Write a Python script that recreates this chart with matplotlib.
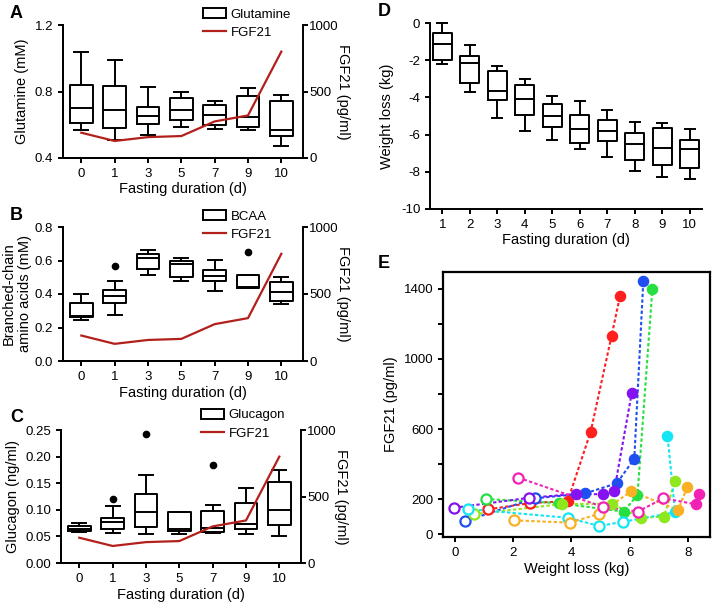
import matplotlib
matplotlib.use('Agg')
import matplotlib.pyplot as plt
from matplotlib.patches import Patch
from matplotlib.lines import Line2D

plt.rcParams['font.family'] = ['Liberation Sans', 'DejaVu Sans']
plt.rcParams['axes.linewidth'] = 1.4
plt.rcParams['xtick.major.width'] = 1.4
plt.rcParams['ytick.major.width'] = 1.4
plt.rcParams['xtick.major.size'] = 3.5
plt.rcParams['ytick.major.size'] = 3.5
plt.rcParams['xtick.labelsize'] = 9.5
plt.rcParams['ytick.labelsize'] = 9.5

RED = '#b3201c'

## data, panels A-C (fasting days)
days = ['0', '1', '3', '5', '7', '9', '10']
fgf21 = [190, 128, 157, 165, 275, 320, 800]

# whisker low, q1, median, q3, whisker high
glut_lo = [0.57, 0.506, 0.536, 0.588, 0.572, 0.57, 0.474]
glut_q1 = [0.61, 0.58, 0.606, 0.628, 0.598, 0.588, 0.534]
glut_med = [0.70, 0.686, 0.65, 0.688, 0.656, 0.648, 0.57]
glut_q3 = [0.84, 0.834, 0.706, 0.762, 0.718, 0.77, 0.74]
glut_hi = [1.036, 0.99, 0.826, 0.798, 0.74, 0.822, 0.78]
glut_out = [[], [], [], [], [], [], []]

bcaa_lo = [0.245, 0.272, 0.512, 0.48, 0.42, 0.434, 0.338]
bcaa_q1 = [0.26, 0.348, 0.55, 0.50, 0.478, 0.434, 0.358]
bcaa_med = [0.27, 0.388, 0.614, 0.58, 0.51, 0.44, 0.414]
bcaa_q3 = [0.345, 0.424, 0.638, 0.60, 0.544, 0.514, 0.474]
bcaa_hi = [0.398, 0.478, 0.664, 0.614, 0.604, 0.514, 0.504]
bcaa_out = [[], [0.568], [], [], [], [0.652], []]

gluc_lo = [0.059, 0.0565, 0.054, 0.054, 0.0565, 0.055, 0.0515]
gluc_q1 = [0.060, 0.064, 0.067, 0.060, 0.058, 0.063, 0.072]
gluc_med = [0.064, 0.077, 0.096, 0.064, 0.066, 0.073, 0.099]
gluc_q3 = [0.069, 0.084, 0.130, 0.095, 0.097, 0.112, 0.153]
gluc_hi = [0.075, 0.107, 0.166, 0.096, 0.109, 0.141, 0.174]
gluc_out = [[], [0.121], [0.243], [], [0.185], [], []]

## data, panel D (weight loss per day)
wdays = [1, 2, 3, 4, 5, 6, 7, 8, 9, 10]
wl_lo = [-2.18, -3.70, -5.09, -5.80, -6.29, -6.79, -7.18, -7.98, -8.29, -8.39]
wl_q1 = [-2.0, -3.21, -4.14, -4.93, -5.61, -6.43, -6.32, -7.39, -7.63, -7.80]
wl_med = [-1.11, -2.14, -3.64, -4.09, -5.0, -5.68, -5.79, -6.48, -6.71, -6.79]
wl_q3 = [-0.52, -1.79, -2.59, -3.36, -4.34, -4.93, -5.20, -5.89, -5.66, -6.29]
wl_hi = [0.0, -1.2, -2.30, -3.0, -3.91, -4.18, -4.68, -5.30, -5.39, -5.68]

## data, panel E (weight loss vs FGF21, one subject per colour)
red_x = [1.15, 2.58, 3.87, 4.66, 5.38, 5.67]
red_y = [141, 177, 188, 583, 1133, 1360]
blue_x = [0.36, 2.75, 4.47, 5.56, 6.16, 6.47]
blue_y = [75, 204, 232, 290, 430, 1446]
green_x = [1.05, 3.59, 5.79, 6.27, 6.78]
green_y = [200, 176, 128, 223, 1398]
lime_x = [0.65, 3.67, 5.38, 6.39, 7.18, 7.56]
lime_y = [113, 171, 173, 93, 99, 303]
purple_x = [-0.03, 2.55, 4.16, 5.07, 5.47, 6.07]
purple_y = [150, 207, 229, 227, 246, 804]
cyan_x = [0.44, 3.87, 4.96, 5.78, 7.56, 7.30]
cyan_y = [143, 93, 46, 70, 124, 562]
orange_x = [2.04, 3.95, 4.96, 6.05, 7.67, 7.98]
orange_y = [78, 65, 116, 244, 137, 270]
magenta_x = [2.18, 5.07, 6.28, 7.16, 8.28, 8.38]
magenta_y = [322, 156, 128, 204, 170, 229]

subjects = [
    (red_x, red_y, '#ff1f1f', 2),
    (blue_x, blue_y, '#1f4ff0', 2),
    (green_x, green_y, '#25e040', 1),
    (lime_x, lime_y, '#8ee81e', 1),
    (purple_x, purple_y, '#8512f0', 2),
    (cyan_x, cyan_y, '#12e6f2', 4),
    (orange_x, orange_y, '#f8b024', 3),
    (magenta_x, magenta_y, '#f222b4', 4),
]


def make_stats(lo, q1, med, q3, hi, out=None):
    stats = []
    for i in range(len(lo)):
        stats.append(dict(whislo=lo[i], q1=q1[i], med=med[i], q3=q3[i], whishi=hi[i],
                          fliers=out[i] if out else []))
    return stats


def draw_boxes(ax, stats, pos, w, cw):
    lp = dict(color='k', linewidth=1.4)
    parts = ax.bxp(stats, positions=pos, widths=w, capwidths=cw,
                   boxprops=lp, whiskerprops=lp, capprops=lp, medianprops=lp,
                   flierprops=dict(marker='o', markerfacecolor='k', markeredgecolor='k', markersize=4.5),
                   manage_ticks=False)
    for k in parts:
        for a in parts[k]:
            a.set_clip_on(False)


def fgf_panel(rect, lo, q1, med, q3, hi, out, name, ylab, yt, ytl, ylim, labpad, leg_y):
    ax = fig.add_axes(rect)
    pos = list(range(len(days)))
    draw_boxes(ax, make_stats(lo, q1, med, q3, hi, out), pos, 0.68, 0.42)
    ax.set_xlim(-0.55, 6.65)
    ax.set_ylim(ylim)
    ax.set_yticks(yt)
    ax.set_yticklabels(ytl)
    ax.set_xticks(pos)
    ax.set_xticklabels(days)
    ax.spines['top'].set_visible(False)
    ax.spines['right'].set_visible(False)
    ax.set_ylabel(ylab, fontsize=10.5, labelpad=labpad)
    ax.set_xlabel('Fasting duration (d)', fontsize=10.5, labelpad=2)

    ax2 = ax.twinx()
    ax2.plot(pos, fgf21, color=RED, lw=1.6)
    ax2.set_ylim(0, 1000)
    ax2.set_yticks([0, 500, 1000])
    ax2.spines['top'].set_visible(False)
    ax2.tick_params(axis='y', pad=1)
    ax2.set_ylabel('FGF21 (pg/ml)', fontsize=10.5, rotation=270, labelpad=8)
    ax2.set_xlim(-0.55, 6.65)

    handles = [Patch(facecolor='white', edgecolor='k', linewidth=1.4),
               Line2D([], [], color=RED, lw=1.6)]
    ax2.legend(handles, [name, 'FGF21'], loc='upper left', bbox_to_anchor=(0.585, leg_y),
               frameon=False, fontsize=9.5, handlelength=1.75, handleheight=0.8,
               handletextpad=0.3, labelspacing=0.45, borderaxespad=0, borderpad=0)
    return ax


fig = plt.figure(figsize=(7.14, 6.04), dpi=100)
W, H = 714.0, 604.0


def rect(l, t, r, b):
    return [l / W, 1 - b / H, (r - l) / W, (b - t) / H]


## A
fgf_panel(rect(63, 25, 303, 158), glut_lo, glut_q1, glut_med, glut_q3, glut_hi, glut_out,
          'Glutamine', 'Glutamine (mM)', [0.4, 0.8, 1.2], ['0.4', '0.8', '1.2'], (0.4, 1.2), 4, 1.127)

## B
fgf_panel(rect(63, 227, 303, 361), bcaa_lo, bcaa_q1, bcaa_med, bcaa_q3, bcaa_hi, bcaa_out,
          'BCAA', 'Branched-chain\namino acids (mM)', [0, 0.2, 0.4, 0.6, 0.8],
          ['0.0', '0.2', '0.4', '0.6', '0.8'], (0, 0.8), 2, 1.127)

## C
fgf_panel(rect(61, 430, 301, 563), gluc_lo, gluc_q1, gluc_med, gluc_q3, gluc_hi, gluc_out,
          'Glucagon', 'Glucagon (ng/ml)', [0, 0.05, 0.10, 0.15, 0.20, 0.25],
          ['0.00', '0.05', '0.10', '0.15', '0.20', '0.25'], (0, 0.25), 4, 1.16)

## D
axd = fig.add_axes(rect(430, 23, 702, 209))
draw_boxes(axd, make_stats(wl_lo, wl_q1, wl_med, wl_q3, wl_hi), wdays, 0.68, 0.36)
axd.set_xlim(0.55, 10.45)
axd.set_ylim(-10, 0)
axd.set_yticks([0, -2, -4, -6, -8, -10])
axd.set_yticklabels(['0', '-2', '-4', '-6', '-8', '-10'])
axd.set_xticks(wdays)
axd.set_xticklabels([str(d) for d in wdays])
axd.spines['top'].set_visible(False)
axd.spines['right'].set_visible(False)
axd.set_ylabel('Weight loss (kg)', fontsize=10.5, labelpad=5)
axd.set_xlabel('Fasting duration (d)', fontsize=10.5, labelpad=2)

## E
axe = fig.add_axes(rect(443, 272, 710, 537))
for xs, ys, c, n_open in subjects:
    axe.plot(xs, ys, color=c, lw=1.5, ls=(0, (1.6, 1.1)), zorder=2)
    axe.plot(xs[:n_open], ys[:n_open], 'o', ms=7.3, mfc='white', mec=c, mew=1.6, ls='none', zorder=3)
    axe.plot(xs[n_open:], ys[n_open:], 'o', ms=7.3, mfc=c, mec=c, mew=1.0, ls='none', zorder=3)
axe.set_xlim(-0.41, 8.76)
axe.set_ylim(-17, 1497)
axe.set_xticks([0, 2, 4, 6, 8])
axe.set_yticks([0, 200, 400, 600, 800, 1000, 1200, 1400])
axe.set_yticklabels(['0', '200', '', '600', '', '1000', '', '1400'])
for s in axe.spines.values():
    s.set_linewidth(1.6)
axe.set_ylabel('FGF21 (pg/ml)', fontsize=10.5, labelpad=4)
axe.set_xlabel('Weight loss (kg)', fontsize=10.5, labelpad=2)

## panel letters
for letter, x, y in [('A', 10, 14), ('B', 10, 215), ('C', 10, 418), ('D', 378, 12), ('E', 378, 264)]:
    fig.text(x / W, 1 - y / H, letter, fontsize=13, fontweight='bold', va='center', ha='left')

fig.savefig('out.png', dpi=100)
